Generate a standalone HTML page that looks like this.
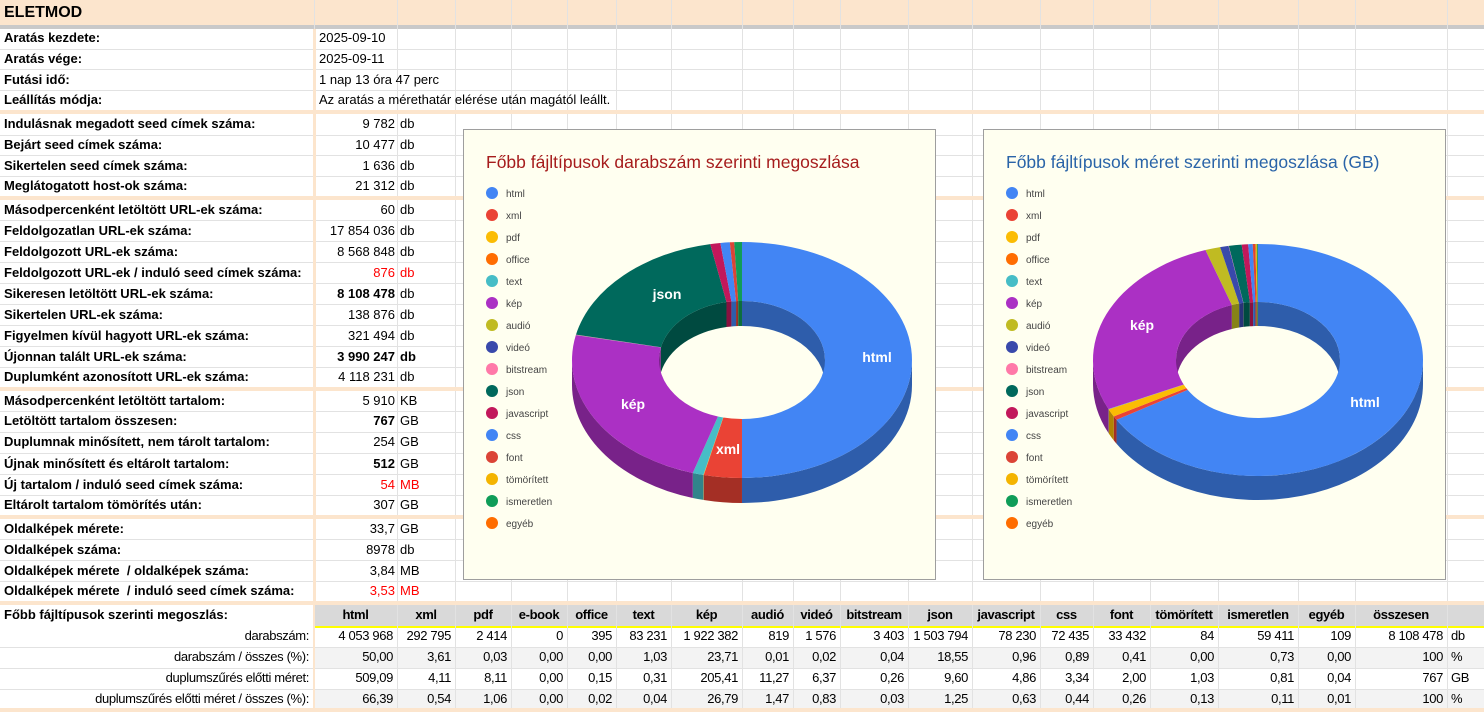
<!DOCTYPE html>
<html><head><meta charset="utf-8"><style>
body{margin:0;width:1484px;height:712px;overflow:hidden;background:#fff;font-family:"Liberation Sans",Arial,sans-serif;position:relative}
.c{position:absolute;font-size:13px;line-height:20px;white-space:nowrap;color:#000}
.b{font-weight:bold}
.r{color:#ff0000}
.n{font-size:13px;letter-spacing:-0.35px}
</style></head><body>
<div id="g"></div>
<svg id="s" width="1484" height="712" style="position:absolute;left:0;top:0"></svg>
<script>
var g=document.getElementById('g');var H='';
function box(x,y,w,h,c){H+='<div style="position:absolute;left:'+x+'px;top:'+y+'px;width:'+w+'px;height:'+h+'px;background:'+c+'"></div>';}
var cols=[314,397,455,511,567,616,671,742,793,840,908,972,1040,1093,1150,1218,1298,1355,1447];
box(0,0,1484,25,'#fce5cd');box(0,25,1484,4,'#c9c9c9');
box(314,605,1170,21,'#d9d9d9');box(314,626,1170,2,'#ffff00');
box(314,647,1170,21,'#f3f3f3');box(314,689,1170,20,'#f3f3f3');
var hl=[49,69,90,135,155,176,220,241,262,283,304,325,346,367,411,432,453,474,495,539,560,581,647,668,689];
hl.forEach(function(y){box(0,y,1484,1,'#e2e2e2');});
cols.forEach(function(x){box(x,0,1,712,'#e2e2e2');});
[110,196,387,515,601].forEach(function(y){box(0,y,1484,4,'#fce5cd');});
box(0,708,1484,4,'#fce5cd');
box(313,29,3,576,'#fce5cd');box(313,605,2,107,'#fce5cd');
function t(x,y,s,cls,al,w){var st='top:'+(y-10)+'px;';if(al=='r'){st+='left:'+(x-w)+'px;width:'+w+'px;text-align:right;';}else if(al=='c'){st+='left:'+(x-w/2)+'px;width:'+w+'px;text-align:center;';}else st+='left:'+x+'px;';H+='<div class="c '+(cls||'')+'" style="'+st+'">'+s+'</div>';}
H+='<div class="c b" style="left:4px;top:2px;font-size:16px;line-height:22px">ELETMOD</div>';
var rows=[[38,'Aratás kezdete:','2025-09-10'],[59,'Aratás vége:','2025-09-11'],[80,'Futási idő:','1 nap 13 óra 47 perc'],[100,'Leállítás módja:','Az aratás a mérethatár elérése után magától leállt.']];
rows.forEach(function(r){t(4,r[0],r[1],'b');t(319,r[0],r[2]);});
var R=[[124,'Indulásnak megadott seed címek száma:','9 782','db'],[145,'Bejárt seed címek száma:','10 477','db'],[166,'Sikertelen seed címek száma:','1 636','db'],[186,'Meglátogatott host-ok száma:','21 312','db'],
[210,'Másodpercenként letöltött URL-ek száma:','60','db'],[231,'Feldolgozatlan URL-ek száma:','17 854 036','db'],[252,'Feldolgozott URL-ek száma:','8 568 848','db'],[273,'Feldolgozott URL-ek / induló seed címek száma:','876','db','r'],[294,'Sikeresen letöltött URL-ek száma:','8 108 478','db','b1'],[315,'Sikertelen URL-ek száma:','138 876','db'],[336,'Figyelmen kívül hagyott URL-ek száma:','321 494','db'],[357,'Újonnan talált URL-ek száma:','3 990 247','db','b'],[377,'Duplumként azonosított URL-ek száma:','4 118 231','db'],
[401,'Másodpercenként letöltött tartalom:','5 910','KB'],[421,'Letöltött tartalom összesen:','767','GB','b1'],[442,'Duplumnak minősített, nem tárolt tartalom:','254','GB'],[464,'Újnak minősített és eltárolt tartalom:','512','GB','b1'],[485,'Új tartalom / induló seed címek száma:','54','MB','r'],[505,'Eltárolt tartalom tömörítés után:','307','GB'],
[529,'Oldalképek mérete:','33,7','GB'],[550,'Oldalképek száma:','8978','db'],[571,'Oldalképek mérete  / oldalképek száma:','3,84','MB'],[591,'Oldalképek mérete  / induló seed címek száma:','3,53','MB','r']];
R.forEach(function(r){t(4,r[0],r[1].replace(/  /g,'&nbsp; '),'b');var f=r[4]||'';t(395,r[0],r[2],f=='r'?'r':(f?'b':''),'r',120);t(400,r[0],r[3],f=='r'?'r':(f=='b'?'b':''));});
t(4,615,'Főbb fájltípusok szerinti megoszlás:','b');
var hd=['html','xml','pdf','e-book','office','text','kép','audió','videó','bitstream','json','javascript','css','font','tömörített','ismeretlen','egyéb','összesen'];
for(var i=0;i<hd.length;i++){var x0=cols[i],x1=cols[i+1];t((x0+x1)/2,615,hd[i],'b n','c',x1-x0);}
var D=[[636,'darabszám:',['4 053 968','292 795','2 414','0','395','83 231','1 922 382','819','1 576','3 403','1 503 794','78 230','72 435','33 432','84','59 411','109','8 108 478'],'db'],
[657,'darabszám / összes (%):',['50,00','3,61','0,03','0,00','0,00','1,03','23,71','0,01','0,02','0,04','18,55','0,96','0,89','0,41','0,00','0,73','0,00','100'],'%'],
[678,'duplumszűrés előtti méret:',['509,09','4,11','8,11','0,00','0,15','0,31','205,41','11,27','6,37','0,26','9,60','4,86','3,34','2,00','1,03','0,81','0,04','767'],'GB'],
[699,'duplumszűrés előtti méret / összes (%):',['66,39','0,54','1,06','0,00','0,02','0,04','26,79','1,47','0,83','0,03','1,25','0,63','0,44','0,26','0,13','0,11','0,01','100'],'%']];
D.forEach(function(d){t(309,d[0],d[1],'n','r',300);d[2].forEach(function(v,i){t(cols[i+1]-4,d[0],v,'n','r',90);});t(1451,d[0],d[3],'n');});
g.innerHTML=H;

var S='';
var names=['html','xml','pdf','office','text','kép','audió','videó','bitstream','json','javascript','css','font','tömörített','ismeretlen','egyéb'];
var colors=['#4285f4','#ea4335','#fbbc04','#ff6d01','#46bdc6','#ab30c4','#c0bb22','#3949ab','#ff79a8','#00695c','#c2185b','#4285f4','#db4437','#f4b400','#0f9d58','#ff6d00'];
function dk(c){var n=parseInt(c.slice(1),16),r=(n>>16)&255,gg=(n>>8)&255,b=n&255;return 'rgb('+Math.round(r*.7)+','+Math.round(gg*.7)+','+Math.round(b*.7)+')';}
function chart(bx,title,tc,cx,cy,rx,ry,irx,iry,d,vals,labels){
S+='<rect x="'+(bx+.5)+'" y="129.5" width="'+(bx==463?472:462)+'" height="450" fill="#fffff0" stroke="#9e9e9e"/>';
S+='<text x="'+(bx+23)+'" y="168" font-size="17.5" fill="'+tc+'" font-family="Liberation Sans,sans-serif">'+title+'</text>';
names.forEach(function(n,i){var y=193+i*22;S+='<circle cx="'+(bx+29)+'" cy="'+y+'" r="6" fill="'+colors[i]+'"/><text x="'+(bx+43)+'" y="'+(y+4)+'" font-size="10" fill="#444" font-family="Liberation Sans,sans-serif">'+n+'</text>';});
var tot=vals.reduce(function(a,b){return a+b},0);var a=0,sl=[];
vals.forEach(function(v,i){var s=v/tot*360;sl.push([a,a+s,colors[i]]);a+=s;});
function P(th,r1,r2,y0){var q=th*Math.PI/180;return (cx+r1*Math.sin(q)).toFixed(2)+','+(y0-r2*Math.cos(q)).toFixed(2);}
function wall(a1,b1,r1,r2,col){if(b1-a1<=0.001)return;S+='<path d="M'+P(a1,r1,r2,cy)+'A'+r1+','+r2+' 0 0 1 '+P(b1,r1,r2,cy)+'L'+P(b1,r1,r2,cy+d)+'A'+r1+','+r2+' 0 0 0 '+P(a1,r1,r2,cy+d)+'Z" fill="'+col+'"/>';}
function clip(s,lo,hi){return [Math.max(s[0],lo),Math.min(s[1],hi)];}
sl.forEach(function(s){if(s[1]-s[0]<=0)return;var c=dk(s[2]);var k=clip(s,0,90);wall(k[0],k[1],irx,iry,c);k=clip(s,270,360);wall(k[0],k[1],irx,iry,c);});
sl.forEach(function(s){if(s[1]-s[0]<=0)return;var k=clip(s,90,270);wall(k[0],k[1],rx,ry,dk(s[2]));});
sl.forEach(function(s){if(s[1]-s[0]<=0)return;var L=(s[1]-s[0])>180?1:0;S+='<path d="M'+P(s[0],rx,ry,cy)+'A'+rx+','+ry+' 0 '+L+' 1 '+P(s[1],rx,ry,cy)+'L'+P(s[1],irx,iry,cy)+'A'+irx+','+iry+' 0 '+L+' 0 '+P(s[0],irx,iry,cy)+'Z" fill="'+s[2]+'"/>';});
labels.forEach(function(l){S+='<text x="'+l[1]+'" y="'+l[2]+'" text-anchor="middle" font-size="14" font-weight="bold" fill="#fff" font-family="Liberation Sans,sans-serif">'+l[0]+'</text>';});
}
chart(463,'Főbb fájltípusok darabszám szerinti megoszlása','#a61c1c',742,360,170,118,83,59,25,
[50,3.61,0.03,0.0049,1.03,23.71,0.01,0.02,0.04,18.55,0.96,0.89,0.41,0.001,0.73,0.001],[['html',877,362],['xml',728,454],['json',667,299],['kép',633,409]]);
chart(983,'Főbb fájltípusok méret szerinti megoszlása (GB)','#2a64a8',1258,360,165,116,82,58,24,
[66.39,0.54,1.06,0.02,0.04,26.79,1.47,0.83,0.03,1.25,0.63,0.44,0.26,0.13,0.11,0.01],[['html',1365,407],['kép',1142,330]]);
document.getElementById('s').innerHTML=S;
</script>
</body></html>
